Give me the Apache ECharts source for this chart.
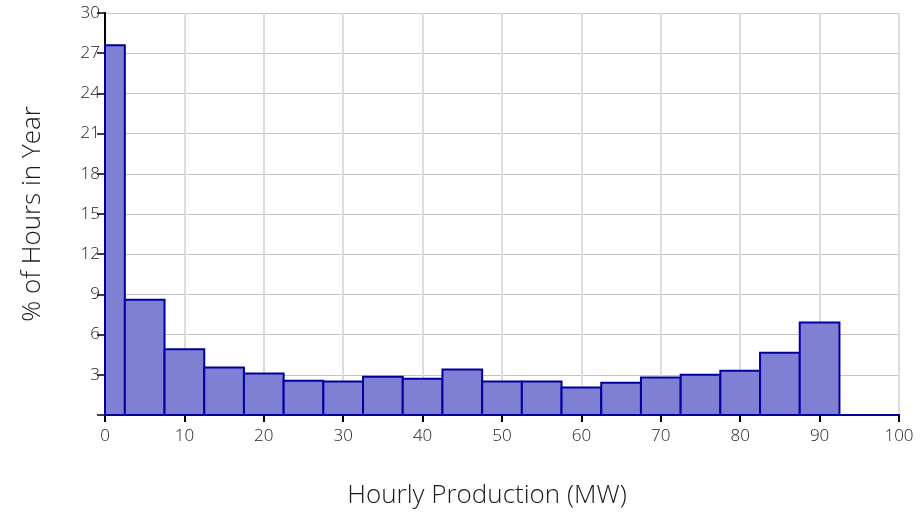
<!DOCTYPE html>
<html>
<head>
<meta charset="utf-8">
<script src="https://cdn.jsdelivr.net/npm/echarts@6/dist/echarts.min.js"></script>
<style>
  html, body { margin: 0; padding: 0; background: #fff; }
  #chart { width: 923px; height: 516px; }
</style>
</head>
<body>
<div id="chart"></div>
<script>
// histogram bins (MW) and share of hours (%)
const binStart = [0, 2.5, 7.5, 12.5, 17.5, 22.5, 27.5, 32.5, 37.5, 42.5, 47.5, 52.5, 57.5, 62.5, 67.5, 72.5, 77.5, 82.5, 87.5, 92.5]
const binEnd = [2.5, 7.5, 12.5, 17.5, 22.5, 27.5, 32.5, 37.5, 42.5, 47.5, 52.5, 57.5, 62.5, 67.5, 72.5, 77.5, 82.5, 87.5, 92.5, 100]
const pctHours = [27.6, 8.6, 4.9, 3.55, 3.1, 2.55, 2.5, 2.85, 2.7, 3.4, 2.5, 2.5, 2.05, 2.4, 2.8, 3.0, 3.3, 4.65, 6.9, 0]

const font = 'Open Sans'
const textColor = '#1a1a1a'
const chart = echarts.init(document.getElementById('chart'))

chart.setOption({
  animation: false,
  grid: { left: 105, right: 24, top: 13, bottom: 101 },
  xAxis: {
    type: 'value',
    min: 0,
    max: 100,
    interval: 10,
    name: 'Hourly Production (MW)',
    nameLocation: 'middle',
    nameGap: 68,
    nameTextStyle: { fontFamily: font, fontWeight: 300, fontSize: 26, color: textColor, padding: [0, 30, 0, 0] },
    axisLine: { lineStyle: { color: '#000', width: 2 } },
    axisTick: { length: 7, lineStyle: { color: '#000', width: 2 } },
    axisLabel: { margin: 13, fontFamily: font, fontWeight: 300, fontSize: 17, color: textColor },
    splitLine: { lineStyle: { color: '#dcdcdc', width: 2 } }
  },
  yAxis: {
    type: 'value',
    min: 0,
    max: 30,
    interval: 3,
    name: '% of Hours in Year',
    nameLocation: 'middle',
    nameGap: 59,
    nameTextStyle: { fontFamily: font, fontWeight: 300, fontSize: 26, color: textColor },
    axisLine: { show: true, lineStyle: { color: '#000', width: 2 } },
    axisTick: { show: true, length: 8, lineStyle: { color: '#000', width: 1.5 } },
    axisLabel: {
      margin: 5,
      fontFamily: font,
      fontWeight: 300,
      fontSize: 17,
      color: textColor,
      formatter: v => v === 0 ? '' : v
    },
    splitLine: { lineStyle: { color: '#c4c4c4', width: 1 } }
  },
  series: [{
    type: 'custom',
    data: binStart.map((s, i) => [s, binEnd[i], pctHours[i]]),
    encode: { x: [0, 1], y: 2 },
    renderItem(params, api) {
      const p0 = api.coord([api.value(0), 0])
      const p1 = api.coord([api.value(1), api.value(2)])
      return {
        type: 'rect',
        shape: { x: p0[0], y: p1[1], width: p1[0] - p0[0], height: p0[1] - p1[1] },
        style: { fill: '#7f7fd4', stroke: '#0000a0', lineWidth: 2 }
      }
    }
  }]
})
</script>
</body>
</html>
